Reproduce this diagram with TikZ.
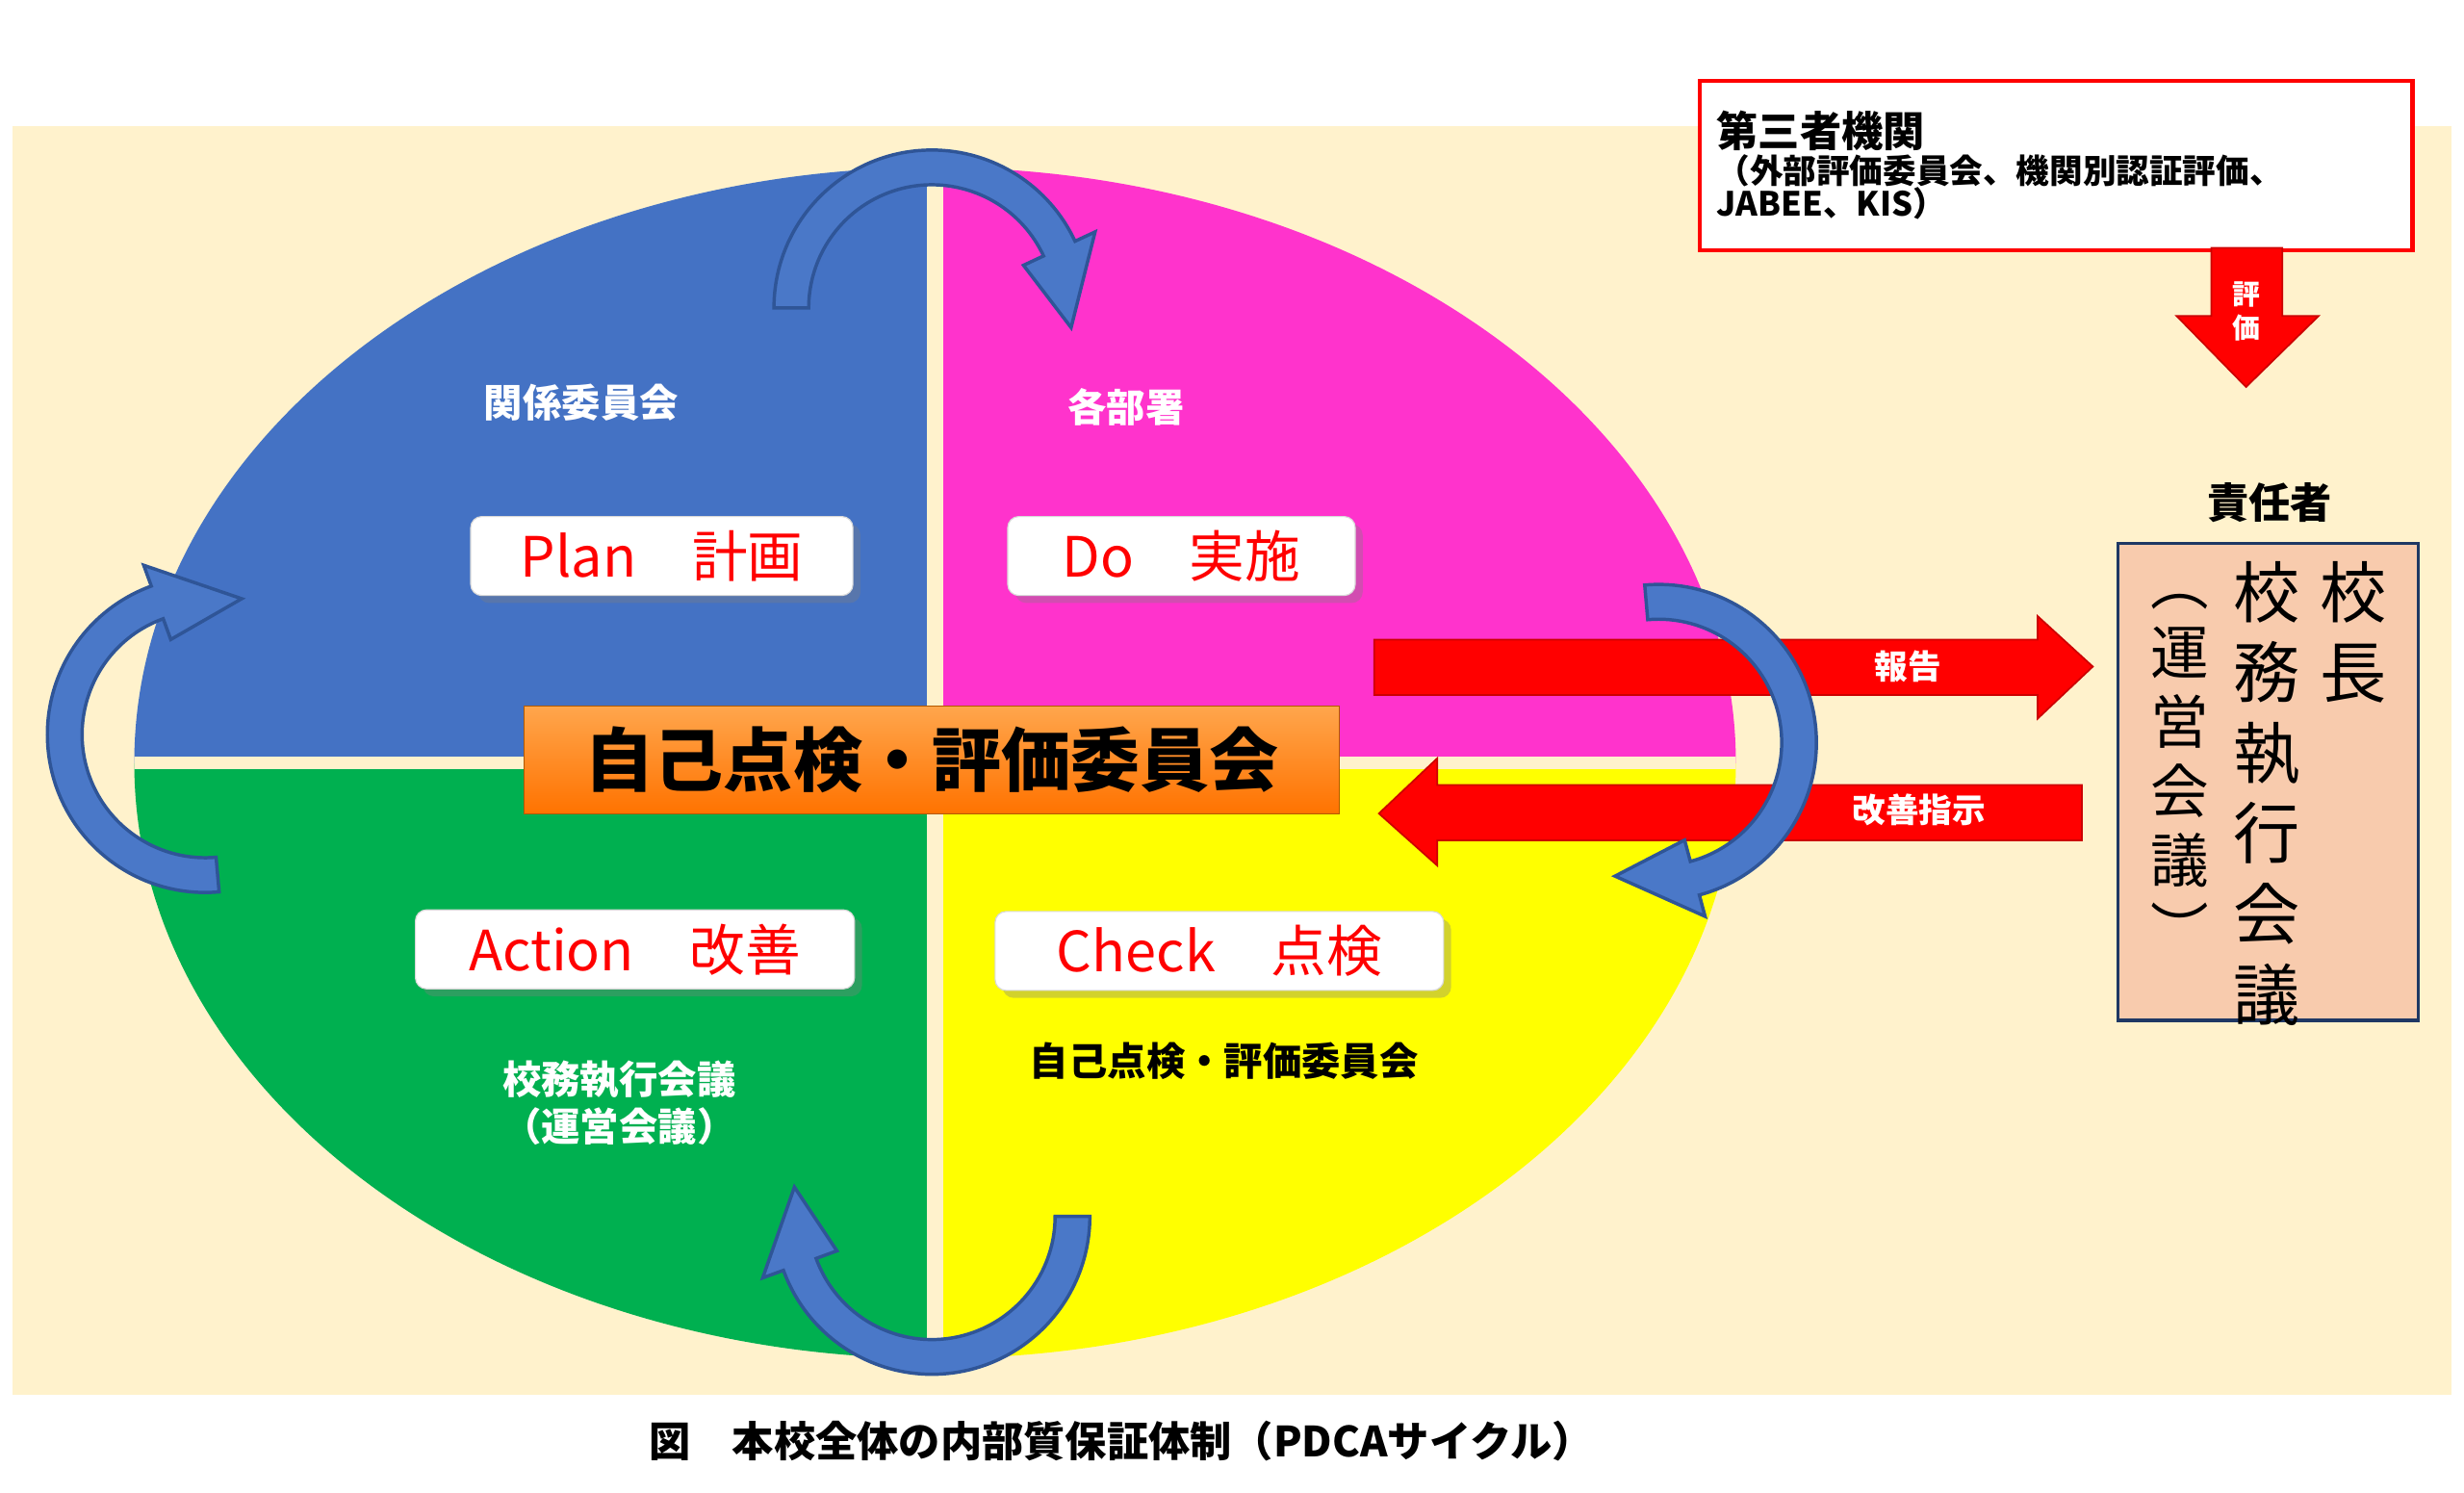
\documentclass[tikz,border=0pt]{standalone}
\usepackage{fontspec}
\setmainfont{Noto Sans CJK JP}
\usetikzlibrary{calc, positioning, shadows}

\definecolor{cream}{HTML}{FFF2CC}
\definecolor{planblue}{HTML}{4472C4}
\definecolor{domagenta}{HTML}{FF33CC}
\definecolor{actgreen}{HTML}{00B050}
\definecolor{chkyellow}{HTML}{FFFF00}
\definecolor{arrowblue}{HTML}{4A78C8}
\definecolor{arrowedge}{HTML}{2F5597}
\definecolor{redbright}{HTML}{FF0000}
\definecolor{peach}{HTML}{F8CBAD}
\definecolor{navy}{HTML}{1F3864}

\tikzset{
  phasebox/.style={draw=gray!30, fill=white, rounded corners=4pt, drop shadow={opacity=0.35},
    text=red, font=\fontsize{20}{22}\selectfont, minimum height=50*0.02cm, inner sep=0pt},
  quadlabel/.style={font=\bfseries\fontsize{14}{17}\selectfont, align=center},
  cyclearrow/.style={fill=arrowblue, draw=arrowedge, line width=1.2pt},
  redarrow/.style={fill=redbright, draw=red!80!black, line width=0.6pt}
}

% curved band arrow: center, start angle, end angle, tip angle
\newcommand{\cyclearc}[4]{%
  \path[cyclearrow] ($(#1)+(#2:100)$) arc[start angle=#2, end angle=#3, radius=100]
    -- ($(#1)+(#3:114)$) -- ($(#1)+(#4:89)$) -- ($(#1)+(#3:64)$)
    -- ($(#1)+(#3:78)$) arc[start angle=#3, end angle=#2, radius=78] -- cycle;}

\begin{document}
\begin{tikzpicture}[x=0.02cm, y=0.02cm]
  \useasboundingbox (0,0) rectangle (1560,945);
  \fill[cream] (8,62) rectangle (1552,865);

  % quadrants of the cycle
  \begin{scope}
    \clip (592,462) ellipse [x radius=507, y radius=377];
    \fill[planblue]  (80,462) rectangle (592,850);
    \fill[domagenta] (592,462) rectangle (1110,850);
    \fill[actgreen]  (80,80) rectangle (592,462);
    \fill[chkyellow] (592,80) rectangle (1110,462);
    \fill[cream] (587,80) rectangle (597,850);
    \fill[cream] (80,458) rectangle (1110,466);
  \end{scope}

  \node[quadlabel, text=white] (plantitle) at (368,690) {関係委員会};
  \node[quadlabel, text=white] (dotitle) at (713,687) {各部署};
  \node[quadlabel, text=white] (acttitle) at (392,247) {校務執行会議\\（運営会議）};
  \node[quadlabel] (chktitle) at (775,273) {自己点検・評価委員会};

  \node[phasebox, minimum width=242*0.02cm] (plan) at (419,593) {Plan\quad 計画};
  \node[phasebox, minimum width=220*0.02cm] (do) at (748,593) {Do\quad 実施};
  \node[phasebox, minimum width=278*0.02cm] (act) at (402,344) {Action\quad 改善};
  \node[phasebox, minimum width=284*0.02cm] (chk) at (772,343) {Check\quad 点検};

  % report and instruction arrows
  \path[redarrow] (870,540) -- (1290,540) -- (1290,555) -- (1325,523) -- (1290,490)
    -- (1290,505) -- (870,505) -- cycle;
  \node[font=\bfseries\fontsize{12}{14}\selectfont, text=white] (report) at (1208,523) {報告};
  \path[redarrow] (1318,448) -- (910,448) -- (910,465) -- (873,430) -- (910,397)
    -- (910,413) -- (1318,413) -- cycle;
  \node[font=\bfseries\fontsize{12}{14}\selectfont, text=white] (improve) at (1215,432) {改善指示};

  % cycle arrows
  \cyclearc{590,750}{180}{25}{-8}
  \cyclearc{1050,475}{95}{-75}{-108}
  \cyclearc{590,175}{0}{-160}{-192}
  \cyclearc{130,480}{-85}{-250}{-285}

  \node[draw=orange!70!black, top color=orange!70, bottom color=orange!90!red,
    minimum width=516*0.02cm, minimum height=68*0.02cm,
    font=\bfseries\fontsize{25}{28}\selectfont] (committee) at (590,464) {自己点検・評価委員会};

  % third party
  \node[draw=red, line width=1.5pt, fill=white, minimum width=448*0.02cm, minimum height=107*0.02cm,
    anchor=north west, align=left, text width=430*0.02cm, inner sep=6pt] (third) at (1075,895)
    {{\bfseries\fontsize{15}{18}\selectfont 第三者機関}\\[-2pt]
     {\bfseries\fontsize{12}{15}\selectfont （外部評価委員会、機関別認証評価、\\JABEE、KIS）}};
  \path[redarrow] (1400,788) -- (1445,788) -- (1445,745) -- (1468,745) -- (1422,700)
    -- (1378,745) -- (1400,745) -- cycle;
  \node[font=\bfseries\fontsize{10}{12}\selectfont, text=white, align=center] (evaluate) at (1422,748) {評\\価};

  % responsible
  \node[font=\bfseries\fontsize{15}{18}\selectfont] (resp) at (1437,627) {責任者};
  \node[draw=navy, line width=1.2pt, fill=peach, minimum width=190*0.02cm, minimum height=302*0.02cm,
    anchor=north west] (head) at (1340,602) {};
  \node[font=\fontsize{24}{29}\selectfont, align=center, anchor=north] (principal) at (1490,596) {校\\長};
  \node[font=\fontsize{24}{29}\selectfont, align=center, anchor=north] (council) at (1435,596) {校\\務\\執\\行\\会\\議};
  \node[font=\fontsize{21}{25}\selectfont, align=center, anchor=north] (mgmt) at (1380,575) {︵\\運\\営\\会\\議\\︶};

  \node[font=\bfseries\fontsize{15}{18}\selectfont] (caption) at (710,33) {図　本校全体の内部質保証体制（PDCAサイクル）};
\end{tikzpicture}
\end{document}
